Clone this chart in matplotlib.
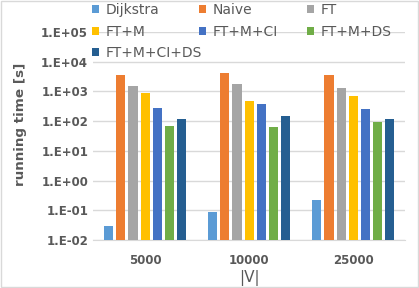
import matplotlib.pyplot as plt
import matplotlib.patches as mpatches
import numpy as np

groups = ['5000', '10000', '25000']
series = ['Dijkstra', 'Naive', 'FT', 'FT+M', 'FT+M+CI', 'FT+M+DS', 'FT+M+CI+DS']
colors = ['#5B9BD5', '#ED7D31', '#A5A5A5', '#FFC000', '#4472C4', '#70AD47', '#255E91']

dijkstra = [0.02, 0.081, 0.22]
naive = [3600, 4270, 3600]
ft = [1540, 1790, 1300]
ft_m = [910, 480, 700]
ft_m_ci = [280, 380, 260]
ft_m_ds = [69, 64, 94]
ft_m_ci_ds = [118, 148, 118]
values = [dijkstra, naive, ft, ft_m, ft_m_ci, ft_m_ds, ft_m_ci_ds]

ytick_vals = [1e-2, 1e-1, 1e0, 1e1, 1e2, 1e3, 1e4, 1e5]
ytick_labels = ['1.E-02', '1.E-01', '1.E+00', '1.E+01', '1.E+02', '1.E+03', '1.E+04', '1.E+05']

text_color = '#595959'

fig = plt.figure(figsize=(4.19, 2.88), dpi=100)
ax = fig.add_axes([0.222, 0.1667, 0.745, 0.722])

x = np.arange(len(groups))
step = 0.116
width = 0.087
bars = []
for i, (name, vals) in enumerate(zip(series, values)):
    b = ax.bar(x + (i - 3) * step, vals, width, color=colors[i], label=name,
               bottom=1e-2, zorder=3)
    bars.append(b)

ax.set_yscale('log')
ax.set_ylim(1e-2, 1e5)
ax.set_xlim(-0.5, 2.5)
ax.set_yticks(ytick_vals)
ax.set_yticklabels(ytick_labels)
ax.minorticks_off()
ax.set_xticks(x)
ax.set_xticklabels(groups)
ax.grid(axis='y', color='#D9D9D9', linewidth=1, zorder=0)
for s in ['top', 'right', 'left']:
    ax.spines[s].set_visible(False)
ax.spines['bottom'].set_color('#D9D9D9')
ax.tick_params(length=0, labelcolor=text_color, labelsize=8.5)
ax.tick_params(axis='x', pad=10)
for lbl in ax.get_xticklabels() + ax.get_yticklabels():
    lbl.set_fontweight('bold')

ax.set_ylabel('running time [s]', color=text_color, fontsize=9.7, fontweight='bold')
ax.yaxis.set_label_coords(-0.212, 0.558)
ax.set_xlabel('|V|', color=text_color, fontsize=11, labelpad=2)

# legend laid out row by row in three fixed-width columns, like Excel
col_x = [0.2196, 0.475, 0.7327]
for c in range(3):
    idx = list(range(c, len(series), 3))
    fig.legend([bars[i] for i in idx], [series[i] for i in idx],
               loc='upper left', bbox_to_anchor=(col_x[c], 0.99), frameon=False,
               fontsize=10, labelcolor=text_color, handlelength=0.5, handleheight=0.5,
               handletextpad=0.45, labelspacing=0.55, borderpad=0, borderaxespad=0)

fig.patches.append(mpatches.Rectangle((0.002, 0.003), 0.995, 0.994, transform=fig.transFigure,
                                      fill=False, edgecolor='#D9D9D9', linewidth=1))

fig.savefig('out.png', dpi=100)
